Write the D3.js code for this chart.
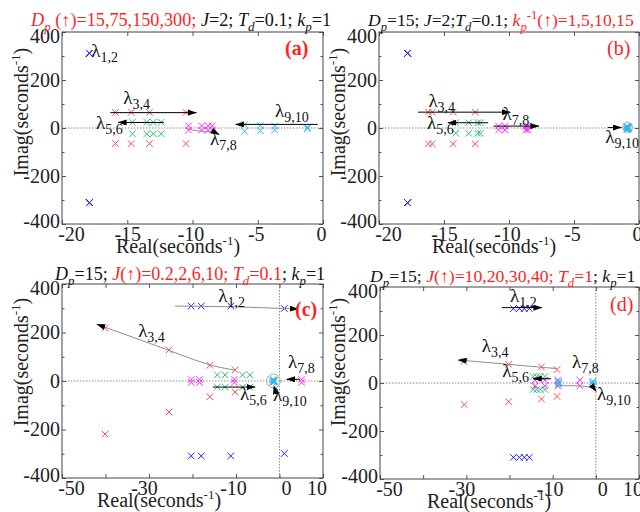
<!DOCTYPE html>
<html><head><meta charset="utf-8">
<script src="https://cdn.jsdelivr.net/npm/d3@7"></script>
<style>
body{margin:0;background:#fff}
svg{display:block}
text{font-family:"Liberation Serif","Times New Roman",serif}
</style>
</head><body>
<svg id="c" width="640" height="512"></svg>
<script>
// ---------------- DATA (real part, imaginary part of each eigenvalue pair) ----------------
// Panel (a): Dp = 15,75,150,300
const a_l12 = [[-17.9,311],[-17.9,311],[-17.9,311],[-17.9,311]];
const a_l34 = [[-15.9,65],[-14.7,65],[-13.3,65],[-10.5,65]];
const a_l56 = [[-14.6,24],[-13.5,24],[-13.0,24],[-12.4,24]];
const a_l78 = [[-10.3,9],[-9.3,9],[-8.8,9],[-8.5,9]];
const a_l910 = [[-6.0,14],[-4.8,11],[-3.7,8],[-1.2,3]];
// Panel (b): kp^-1 = 1,5,10,15
const b_l12 = [[-17.8,311],[-17.8,311],[-17.8,311],[-17.8,311]];
const b_l34 = [[-16.2,66],[-15.9,66],[-14.3,66],[-12.6,66]];
const b_l56 = [[-14.1,22],[-13.1,22],[-12.4,22],[-12.2,22]];
const b_l78 = [[-10.8,8],[-10.3,8],[-8.7,8],[-8.55,8]];
const b_l910 = [[-0.95,7],[-0.9,5],[-0.85,4],[-0.8,3]];
// Panel (c): J = 0.2,2,6,10
const c_l12 = [[-20.3,309],[-18.0,309],[-11.2,309],[1.1,299]];
const c_l34 = [[-10.2,46],[-16.0,65],[-25.4,128],[-40.1,219]];
const c_l56 = [[-14.3,25],[-12.5,25],[-8.5,25],[-6.8,25]];
const c_l78 = [[5.1,6],[-10.4,6],[-18.4,6],[-20.3,6]];
const c_l910 = [[-1.6,5],[-1.4,4],[-1.3,3],[-1.2,2]];
// Panel (d): J = 10,20,30,40 ; Td = 1
const d_l12 = [[-19.1,310],[-17.7,310],[-16.6,310],[-15.4,310]];
const d_l34 = [[-9.0,56],[-12.6,67],[-20.2,78],[-30.5,90]];
const d_l56 = [[-11.8,27],[-12.9,27],[-13.7,27],[-14.5,27]];
const d_l78 = [[-3.7,12],[-8.8,12],[-11.8,12],[-14.1,12]];
const d_l910 = [[-0.6,6],[-0.8,5],[-8.6,5],[-8.7,4]];

const xTicksAB = [-20,-15,-10,-5,0];
const xShiftAB = [9,0,-2,-2,-2];
const xTicksCD = [-50,-40,-30,-20,-10,0,10];
const xLabelsCD = ["-50","","-30","","-10","0","10"];
const xShiftCD = [9,0,-5,0,-3,6.5,-6.5];
const yTicks = [-400,-200,0,200,400];
const yShift = [-3,0,0,0,4];
const yMinor = [-300,-100,100,300];

const modeColors = ["#2424ff","#ff4a4a","#2fbf74","#ff2bff","#2fb8ec"];
const RED = "#ff1f1f";

// titles: [text, style, colour] style: n normal, i italic, s sub, S sup ; colour r/k
const titleA = [["D","i","r"],["p","is","r"],[" (↑)=15,75,150,300; ","n","r"],["J","i","k"],["=2; ","n","k"],["T","i","k"],["d","is","k"],["=0.1; ","n","k"],["k","i","k"],["p","is","k"],["=1","n","k"]];
const titleB = [["D","i","k"],["p","is","k"],["=15; ","n","k"],["J","i","k"],["=2;","n","k"],["T","i","k"],["d","is","k"],["=0.1; ","n","k"],["k","i","r"],["p","is","r"],["-1","S","r"],["(↑)=1,5,10,15","n","r"]];
const titleC = [["D","i","k"],["p","is","k"],["=15; ","n","k"],["J","i","r"],["(↑)=0.2,2,6,10; ","n","r"],["T","i","r"],["d","is","r"],["=0.1","n","r"],["; ","n","k"],["k","i","k"],["p","is","k"],["=1","n","k"]];
const titleD = [["D","i","k"],["p","is","k"],["=15; ","n","k"],["J","i","r"],["(↑)=10,20,30,40; ","n","r"],["T","i","r"],["d","is","r"],["=1","n","r"],["; ","n","k"],["k","i","k"],["p","is","k"],["=1","n","k"]];

// annotation labels [re, im, subscript]
const labA = [[-17.75,296,"1,2"],[-15.3,100,"3,4"],[-17.4,-4,"5,6"],[-8.66,-71,"7,8"],[-3.68,46,"9,10"]];
const labB = [[-16.2,88,"3,4"],[-16.3,-4,"5,6"],[-10.5,33,"7,8"],[-2.6,-62,"9,10"]];
const labC = [[-14.1,326,"1,2"],[-32.5,181,"3,4"],[-9.1,-78,"5,6"],[1.95,54,"7,8"],[-1.5,-82,"9,10"]];
const labD = [[-19.9,337,"1,2"],[-26.4,129,"3,4"],[-21.7,25,"5,6"],[-5.5,62,"7,8"],[0.27,-71,"9,10"]];

// arrows: [kind, points]  kind k = black line, g = gray curve (black head)
const arrA = [["k",[[-16.3,64],[-9.7,64]]],["k",[[-12.2,23],[-15.7,23]]],["k",[[-0.4,15],[-6.7,15]]],
              ["g",[[-10.4,-3],[-9.6,-14],[-8.4,-14],[-7.95,-28]]]];
const arrB = [["k",[[-17,66],[-9.9,66]]],["k",[[-11.6,22],[-14.7,22]]],["k",[[-11.2,8],[-7.7,8]]],
              ["k",[[-2.4,2],[-1.35,2]]]];
const arrC = [["g",[[-24,309],[-11,307],[4.3,297]]],["g",[[-10.2,45],[-16,62],[-25.4,127],[-42,234]]],
              ["k",[[-15.3,-25],[-5.6,-25]]],["k",[[4.7,7],[1.65,7]]],["g",[[-0.9,-48],[-1.3,-20]]]];
const arrD = [["k",[[-21.8,314],[-12.5,314]]],["g",[[-9,60],[-20.3,78],[-31.9,96]]],["k",[[-10.4,18],[-14.5,18]]],
              ["g",[[-8.8,-11],[-0.9,-11],[0.1,-36]]]];
const circB = [[-0.88,3,5]];
const circC = [[-1.4,0,7]];
const circD = [];

// ---------------- DRAWING ----------------
const svg = d3.select("#c");
const defs = svg.append("defs");
defs.append("marker").attr("id","ah").attr("viewBox","0 0 9 6").attr("refX",8.5).attr("refY",3)
  .attr("markerWidth",9).attr("markerHeight",6).attr("markerUnits","userSpaceOnUse").attr("orient","auto")
  .append("path").attr("d","M0,0L9,3L0,6z").attr("fill","#000");

function richText(g, segs, x, y, size){
  const t = g.append("text").attr("x",x).attr("y",y).attr("font-size",size);
  let cur = 0;
  segs.forEach(([s,st,c])=>{
    let target = 0, fs = size;
    if (st.includes("s")) { target = size*0.28; fs = size*0.72; }
    if (st.includes("S")) { target = -size*0.38; fs = size*0.72; }
    const ts = t.append("tspan").text(s).attr("font-size",fs).attr("dy",target-cur)
      .attr("fill", c==="r"?RED:"#111");
    if (st.includes("i")) ts.attr("font-style","italic");
    cur = target;
  });
  return t;
}

function panel(o){
  const x = d3.scaleLinear().domain(o.xd).range([o.l,o.r]);
  const y = d3.scaleLinear().domain([-400,400]).range([o.b,o.t]);
  const g = svg.append("g");
  // zero lines
  g.append("line").attr("x1",o.l).attr("x2",o.r).attr("y1",y(0)).attr("y2",y(0))
    .attr("stroke","#8a8a8a").attr("stroke-width",1).attr("stroke-dasharray","1.5,1.5");
  if (o.xd[1] > 0) g.append("line").attr("x1",x(0)).attr("x2",x(0)).attr("y1",o.t).attr("y2",o.b)
    .attr("stroke","#8a8a8a").attr("stroke-width",1).attr("stroke-dasharray","1.5,1.5");

  const styleAxis = sel => {
    sel.select(".domain").remove();
    sel.selectAll(".tick line").attr("stroke","#555");
    sel.selectAll("text").attr("font-size",20).attr("fill","#222")
      .attr("font-family","'Liberation Serif','Times New Roman',serif");
  };
  const fmt = o.xl ? (d,i)=>o.xl[i] : d=>String(d);
  const xb = g.append("g").attr("transform",`translate(0,${o.b})`)
    .call(d3.axisBottom(x).tickValues(o.xt).tickFormat(fmt).tickSize(-4).tickPadding(3)).call(styleAxis);
  xb.selectAll(".tick text").attr("dx",(d,i)=>o.xs[i]);
  g.append("g").attr("transform",`translate(0,${o.t})`)
    .call(d3.axisTop(x).tickValues(o.xt).tickFormat("").tickSize(-4)).call(styleAxis);
  const yl = g.append("g").attr("transform",`translate(${o.l},0)`)
    .call(d3.axisLeft(y).tickValues(yTicks).tickFormat(d=>String(d)).tickSize(-4).tickPadding(2)).call(styleAxis);
  yl.selectAll(".tick text").attr("transform",(d,i)=>`translate(0,${yShift[i]})`);
  g.append("g").attr("transform",`translate(${o.r},0)`)
    .call(d3.axisRight(y).tickValues(yTicks).tickFormat("").tickSize(-4)).call(styleAxis);
  g.append("g").attr("transform",`translate(${o.l},0)`)
    .call(d3.axisLeft(y).tickValues(yMinor).tickFormat("").tickSize(-2.5)).call(styleAxis);
  g.append("g").attr("transform",`translate(${o.r},0)`)
    .call(d3.axisRight(y).tickValues(yMinor).tickFormat("").tickSize(-2.5)).call(styleAxis);

  // frame
  g.append("rect").attr("x",o.l).attr("y",o.t).attr("width",o.r-o.l).attr("height",o.b-o.t)
    .attr("fill","none").attr("stroke","#444").attr("stroke-width",1);

  // gray circles
  o.circ.forEach(([re,im,r])=>{
    g.append("circle").attr("cx",x(re)).attr("cy",y(im)).attr("r",r)
      .attr("fill","none").attr("stroke","#aaa").attr("stroke-width",1);
  });

  // markers
  o.modes.forEach((arr,i)=>{
    arr.forEach(([re,im])=>{
      [im,-im].forEach(v=>{
        g.append("path").attr("transform",`translate(${x(re)},${y(v)})`)
          .attr("d","M-3.3,-3.3L3.3,3.3M-3.3,3.3L3.3,-3.3")
          .attr("stroke",modeColors[i]).attr("stroke-width",1).attr("fill","none");
      });
    });
  });

  // arrows
  const line = d3.line().x(d=>x(d[0])).y(d=>y(d[1])).curve(d3.curveBasis);
  o.arr.forEach(([k,pts])=>{
    g.append("path").attr("d",line(pts)).attr("fill","none")
      .attr("stroke", k==="k"?"#000":"#8c8c8c").attr("stroke-width",1)
      .attr("marker-end","url(#ah)");
  });

  // lambda labels
  o.lab.forEach(([re,im,sub])=>{
    const t = g.append("text").attr("x",x(re)).attr("y",y(im)).attr("font-size",19).attr("fill","#111");
    t.append("tspan").text("λ");
    t.append("tspan").text(sub).attr("font-size",14).attr("dy",5);
  });

  // panel letter
  g.append("text").attr("x",o.pl[0]).attr("y",o.pl[1]).attr("font-size",20).attr("fill",RED)
    .attr("font-weight",o.pl[3]?"bold":"normal").text(o.pl[2]);

  // title
  richText(g, o.title, o.tt[0], o.tt[1], o.tt[2]);

  // axis titles
  const xt = g.append("text").attr("x",o.xlab[0]).attr("y",o.xlab[1]).attr("font-size",20)
    .attr("text-anchor","middle").attr("fill","#222");
  xt.append("tspan").text("Real(seconds");
  xt.append("tspan").text("-1").attr("font-size",13).attr("dy",-8);
  xt.append("tspan").text(")").attr("dy",8);
  const yt = g.append("text").attr("transform",`translate(${o.ylab[0]},${o.ylab[1]}) rotate(-90)`)
    .attr("font-size",20).attr("text-anchor","middle").attr("fill","#222");
  yt.append("tspan").text("Imag(seconds");
  yt.append("tspan").text("-1").attr("font-size",13).attr("dy",-8);
  yt.append("tspan").text(")").attr("dy",8);
}

panel({xd:[-20,0], l:62, r:323, t:32, b:224, xt:xTicksAB, xs:xShiftAB,
  modes:[a_l12,a_l34,a_l56,a_l78,a_l910], lab:labA, arr:arrA, circ:[],
  pl:[285,55,"(a)",true], title:titleA, tt:[31,26,18.2], xlab:[178,253], ylab:[28,112]});
panel({xd:[-20,0], l:379, r:639, t:32, b:224, xt:xTicksAB, xs:xShiftAB,
  modes:[b_l12,b_l34,b_l56,b_l78,b_l910], lab:labB, arr:arrB, circ:circB,
  pl:[607,55,"(b)",false], title:titleB, tt:[368,26,17.6], xlab:[494,253], ylab:[345,112]});
panel({xd:[-50,10], l:62, r:323, t:284, b:478, xt:xTicksCD, xl:xLabelsCD, xs:xShiftCD,
  modes:[c_l12,c_l34,c_l56,c_l78,c_l910], lab:labC, arr:arrC, circ:circC,
  pl:[295,316,"(c)",true], title:titleC, tt:[55,280,18], xlab:[159,507], ylab:[28,362]});
panel({xd:[-50,10], l:380, r:639, t:287, b:479, xt:xTicksCD, xl:xLabelsCD, xs:xShiftCD,
  modes:[d_l12,d_l34,d_l56,d_l78,d_l910], lab:labD, arr:arrD, circ:circD,
  pl:[610,311,"(d)",false], title:titleD, tt:[370,282,17.7], xlab:[489,508], ylab:[345,362]});
</script>
</body></html>
